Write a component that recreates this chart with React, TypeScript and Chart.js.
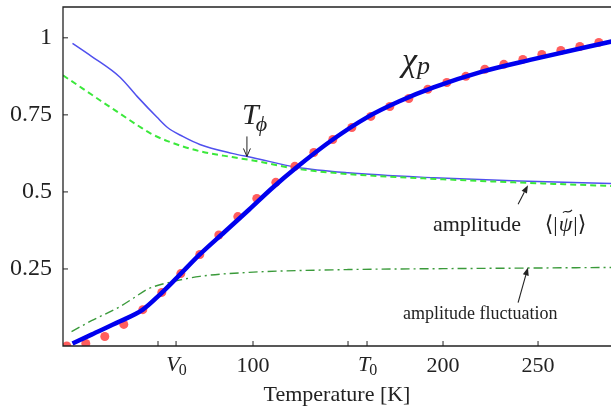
import React, { useEffect, useRef } from "react";
import { Chart, registerables } from "chart.js";

Chart.register(...registerables);

const SERIF = '"Liberation Serif", "DejaVu Serif", serif';
const INK = "#222222";

// ---- data (Temperature in K) ----
// chi_p : thick blue curve
const chiT = [5, 15, 30, 42, 51, 60, 72, 85, 98, 110, 123, 142, 160, 177, 195, 221, 247, 290];
const chiY = [0.008, 0.037, 0.08, 0.118, 0.167, 0.222, 0.297, 0.37, 0.443, 0.512, 0.58, 0.67, 0.742, 0.794, 0.839, 0.891, 0.93, 0.99];

// red points
const dotT = [2, 12, 22, 32, 42, 52, 62, 72, 82, 92, 102, 112, 122, 132, 142, 152, 162, 172, 182, 192, 202, 212, 222, 232, 242, 252, 262, 272, 282];
const dotY = [0.0, 0.008, 0.031, 0.07, 0.118, 0.174, 0.235, 0.297, 0.36, 0.42, 0.479, 0.531, 0.583, 0.628, 0.67, 0.709, 0.745, 0.777, 0.803, 0.833, 0.855, 0.875, 0.898, 0.914, 0.93, 0.946, 0.959, 0.972, 0.985];

// amplitude <|psi|> : thin blue curve
const ampT = [5, 15, 30, 39, 49.5, 55, 63, 72, 89, 100, 123, 150, 195, 240, 290];
const ampY = [0.982, 0.94, 0.872, 0.81, 0.742, 0.709, 0.68, 0.654, 0.625, 0.611, 0.58, 0.562, 0.546, 0.535, 0.527];

// T_phi : green dashed curve
const phiT = [0, 10, 20, 30, 40, 46, 55, 72, 89, 100, 123, 150, 200, 250, 290];
const phiY = [0.878, 0.837, 0.795, 0.754, 0.713, 0.69, 0.665, 0.632, 0.613, 0.602, 0.575, 0.558, 0.541, 0.528, 0.519];

// amplitude fluctuation : dash-dot dark green
const flucT = [4.5, 15, 30, 37, 44, 48, 60, 72, 98, 150, 200, 247, 290];
const flucY = [0.047, 0.082, 0.128, 0.155, 0.183, 0.193, 0.212, 0.226, 0.239, 0.248, 0.251, 0.253, 0.255];

// axes
const V0 = 59.5;
const T0 = 160;
const xMin = 0;
const xMax = 288.4;
const yMin = 0;
const yMax = 1.1;
const xLabelTicks = [V0, 100, T0, 200, 250];
const xLabelText = ["V", "100", "T", "200", "250"];
const xTickMarks = [50, V0, 100, 150, T0, 200, 250];
const yTickMarks = [0.25, 0.5, 0.75, 1];

const pts = (xs: number[], ys: number[]) => xs.map((x, i) => ({ x, y: ys[i] }));

const framePlugin = {
  id: "frameAndNotes",
  afterDatasetsDraw(chart: any) {
    const { ctx, chartArea: a } = chart;
    const xs = chart.scales.x;
    const ys = chart.scales.y;
    const P = (t: number, v: number): [number, number] => [xs.getPixelForValue(t), ys.getPixelForValue(v)];
    ctx.save();

    // frame: top, left, bottom
    ctx.strokeStyle = INK;
    ctx.lineWidth = 1.3;
    ctx.beginPath();
    ctx.moveTo(a.right + 2, a.top);
    ctx.lineTo(a.left, a.top);
    ctx.lineTo(a.left, a.bottom);
    ctx.lineTo(a.right + 2, a.bottom);
    ctx.stroke();

    // inward ticks
    ctx.lineWidth = 1;
    ctx.beginPath();
    for (const v of xTickMarks) {
      const px = xs.getPixelForValue(v);
      ctx.moveTo(px, a.bottom);
      ctx.lineTo(px, a.bottom - 5);
    }
    for (const v of yTickMarks) {
      const py = ys.getPixelForValue(v);
      ctx.moveTo(a.left, py);
      ctx.lineTo(a.left + 5, py);
    }
    ctx.stroke();

    ctx.fillStyle = INK;
    ctx.textBaseline = "alphabetic";
    ctx.textAlign = "left";

    // italic subscripted tick labels V0, T0
    for (const [v, letter] of [[V0, "V"], [T0, "T"]] as [number, string][]) {
      const px = xs.getPixelForValue(v);
      ctx.font = `italic 22px ${SERIF}`;
      const w1 = ctx.measureText(letter).width;
      ctx.font = `16px ${SERIF}`;
      const w2 = ctx.measureText("0").width;
      const x0 = px - (w1 + w2) / 2 + 1;
      const base = a.bottom + 25;
      ctx.font = `italic 22px ${SERIF}`;
      ctx.fillText(letter, x0, base);
      ctx.font = `16px ${SERIF}`;
      ctx.fillText("0", x0 + w1 - 1, base + 4);
    }

    // chi_p label
    {
      const [cx, cy] = P(178.4, 0.891);
      ctx.font = `italic 34px ${SERIF}`;
      ctx.fillText("\u03c7", cx, cy);
      const w = ctx.measureText("\u03c7").width;
      ctx.font = `italic 26px ${SERIF}`;
      ctx.fillText("p", cx + w, cy + 3);
    }

    // T_phi label + open arrow
    {
      const [tx, ty] = P(94.2, 0.719);
      ctx.font = `italic 30px ${SERIF}`;
      ctx.fillText("T", tx, ty);
      const w = ctx.measureText("T").width;
      ctx.font = `italic 22px ${SERIF}`;
      ctx.fillText("\u03d5", tx + w - 3, ty + 7);

      const [ax, ay0] = P(96.8, 0.68);
      const [, ay1] = P(96.8, 0.615);
      ctx.strokeStyle = INK;
      ctx.lineWidth = 1;
      ctx.beginPath();
      ctx.moveTo(ax, ay0);
      ctx.lineTo(ax, ay1);
      ctx.moveTo(ax - 3.5, ay1 - 8);
      ctx.lineTo(ax, ay1);
      ctx.lineTo(ax + 3.5, ay1 - 8);
      ctx.stroke();
    }

    const arrow = (t0: number, v0: number, t1: number, v1: number) => {
      const [x0, y0] = P(t0, v0);
      const [x1, y1] = P(t1, v1);
      const ang = Math.atan2(y1 - y0, x1 - x0);
      const hl = 8;
      const hw = 3;
      const bx = x1 - hl * Math.cos(ang);
      const by = y1 - hl * Math.sin(ang);
      ctx.strokeStyle = INK;
      ctx.lineWidth = 1.1;
      ctx.beginPath();
      ctx.moveTo(x0, y0);
      ctx.lineTo(bx, by);
      ctx.stroke();
      ctx.beginPath();
      ctx.moveTo(x1, y1);
      ctx.lineTo(bx - hw * Math.sin(ang), by + hw * Math.cos(ang));
      ctx.lineTo(bx + hw * Math.sin(ang), by - hw * Math.cos(ang));
      ctx.closePath();
      ctx.fill();
    };

    // amplitude <|psi~|>
    {
      const [tx, ty] = P(194.7, 0.372);
      ctx.font = `22px ${SERIF}`;
      ctx.fillText("amplitude", tx, ty);
      const [bx] = P(253.5, 0.372);
      let cx = bx;
      ctx.font = `22px ${SERIF}`;
      ctx.fillText("\u27e8|", cx, ty);
      cx += ctx.measureText("\u27e8|").width + 1;
      ctx.font = `italic 22px ${SERIF}`;
      ctx.fillText("\u03c8", cx, ty);
      const wpsi = ctx.measureText("\u03c8").width;
      const mx = cx + wpsi / 2 + 2;
      const my = ty - 20;
      ctx.strokeStyle = INK;
      ctx.lineWidth = 1.1;
      ctx.beginPath();
      ctx.moveTo(mx - 4.5, my + 1.5);
      ctx.bezierCurveTo(mx - 2.5, my - 2.5, mx + 1, my + 3.5, mx + 4.5, my - 1.5);
      ctx.stroke();
      cx += wpsi + 1;
      ctx.font = `22px ${SERIF}`;
      ctx.fillText("|\u27e9", cx, ty);
      arrow(239.5, 0.46, 244.7, 0.522);
    }

    // amplitude fluctuation
    {
      const [tx, ty] = P(179, 0.086);
      ctx.font = `18px ${SERIF}`;
      ctx.fillText("amplitude fluctuation", tx, ty);
      arrow(239.5, 0.141, 244.7, 0.255);
    }

    ctx.restore();
  },
};

export default function App() {
  const ref = useRef<HTMLCanvasElement | null>(null);
  useEffect(() => {
    if (!ref.current) return;
    const chart = new Chart(ref.current, {
      type: "line",
      data: {
        datasets: [
          {
            label: "chi_p",
            data: pts(chiT, chiY),
            borderColor: "#0000ee",
            borderWidth: 4.5,
            pointRadius: 0,
            cubicInterpolationMode: "monotone",
            order: 0,
          },
          {
            label: "data",
            type: "scatter",
            data: pts(dotT, dotY),
            backgroundColor: "rgba(255,80,80,0.92)",
            borderWidth: 0,
            pointRadius: 4.5,
            showLine: false,
            order: 1,
          },
          {
            label: "T_phi",
            data: pts(phiT, phiY),
            borderColor: "#3be83b",
            borderWidth: 2,
            borderDash: [6, 4],
            pointRadius: 0,
            cubicInterpolationMode: "monotone",
            order: 2,
          },
          {
            label: "amplitude",
            data: pts(ampT, ampY),
            borderColor: "#5050ee",
            borderWidth: 1.5,
            pointRadius: 0,
            cubicInterpolationMode: "monotone",
            order: 3,
          },
          {
            label: "amplitude fluctuation",
            data: pts(flucT, flucY),
            borderColor: "#3a9a3a",
            borderWidth: 1.4,
            borderDash: [9, 4, 2, 4],
            pointRadius: 0,
            cubicInterpolationMode: "monotone",
            order: 4,
          },
        ] as any,
      },
      options: {
        responsive: false,
        animation: false,
        devicePixelRatio: 1,
        layout: { autoPadding: false, padding: { top: 7, left: 0, right: 0, bottom: 0 } },
        plugins: { legend: { display: false }, tooltip: { enabled: false } },
        scales: {
          x: {
            type: "linear",
            min: xMin,
            max: xMax,
            grid: { display: false, drawTicks: false },
            border: { display: false },
            afterBuildTicks: (s: any) => {
              s.ticks = xLabelTicks.map((v) => ({ value: v }));
            },
            afterFit: (s: any) => {
              s.height = 60;
              s.paddingLeft = 0;
              s.paddingRight = 0;
            },
            ticks: {
              autoSkip: false,
              maxRotation: 0,
              padding: 7,
              color: INK,
              font: { family: SERIF, size: 22 },
              callback: (v: any, i: number) => {
                const t = xLabelText[i];
                return t === "V" || t === "T" ? "" : t;
              },
            },
            title: {
              display: true,
              text: "Temperature [K]",
              color: INK,
              font: { family: SERIF, size: 22, lineHeight: 1 },
              padding: 0,
            },
          },
          y: {
            type: "linear",
            min: yMin,
            max: yMax,
            grid: { display: false, drawTicks: false },
            border: { display: false },
            afterBuildTicks: (s: any) => {
              s.ticks = yTickMarks.map((v) => ({ value: v }));
            },
            afterFit: (s: any) => {
              s.width = 63;
              s.paddingTop = 0;
              s.paddingBottom = 0;
            },
            ticks: {
              padding: 11,
              color: INK,
              font: { family: SERIF, size: 24 },
              callback: (v: any) => String(v),
            },
          },
        },
      },
      plugins: [framePlugin],
    });
    return () => chart.destroy();
  }, []);
  return (
    <div style={{ position: "fixed", left: 0, top: 0, width: 611, height: 406, background: "#fff" }}>
      <canvas ref={ref} width={611} height={406} />
    </div>
  );
}
